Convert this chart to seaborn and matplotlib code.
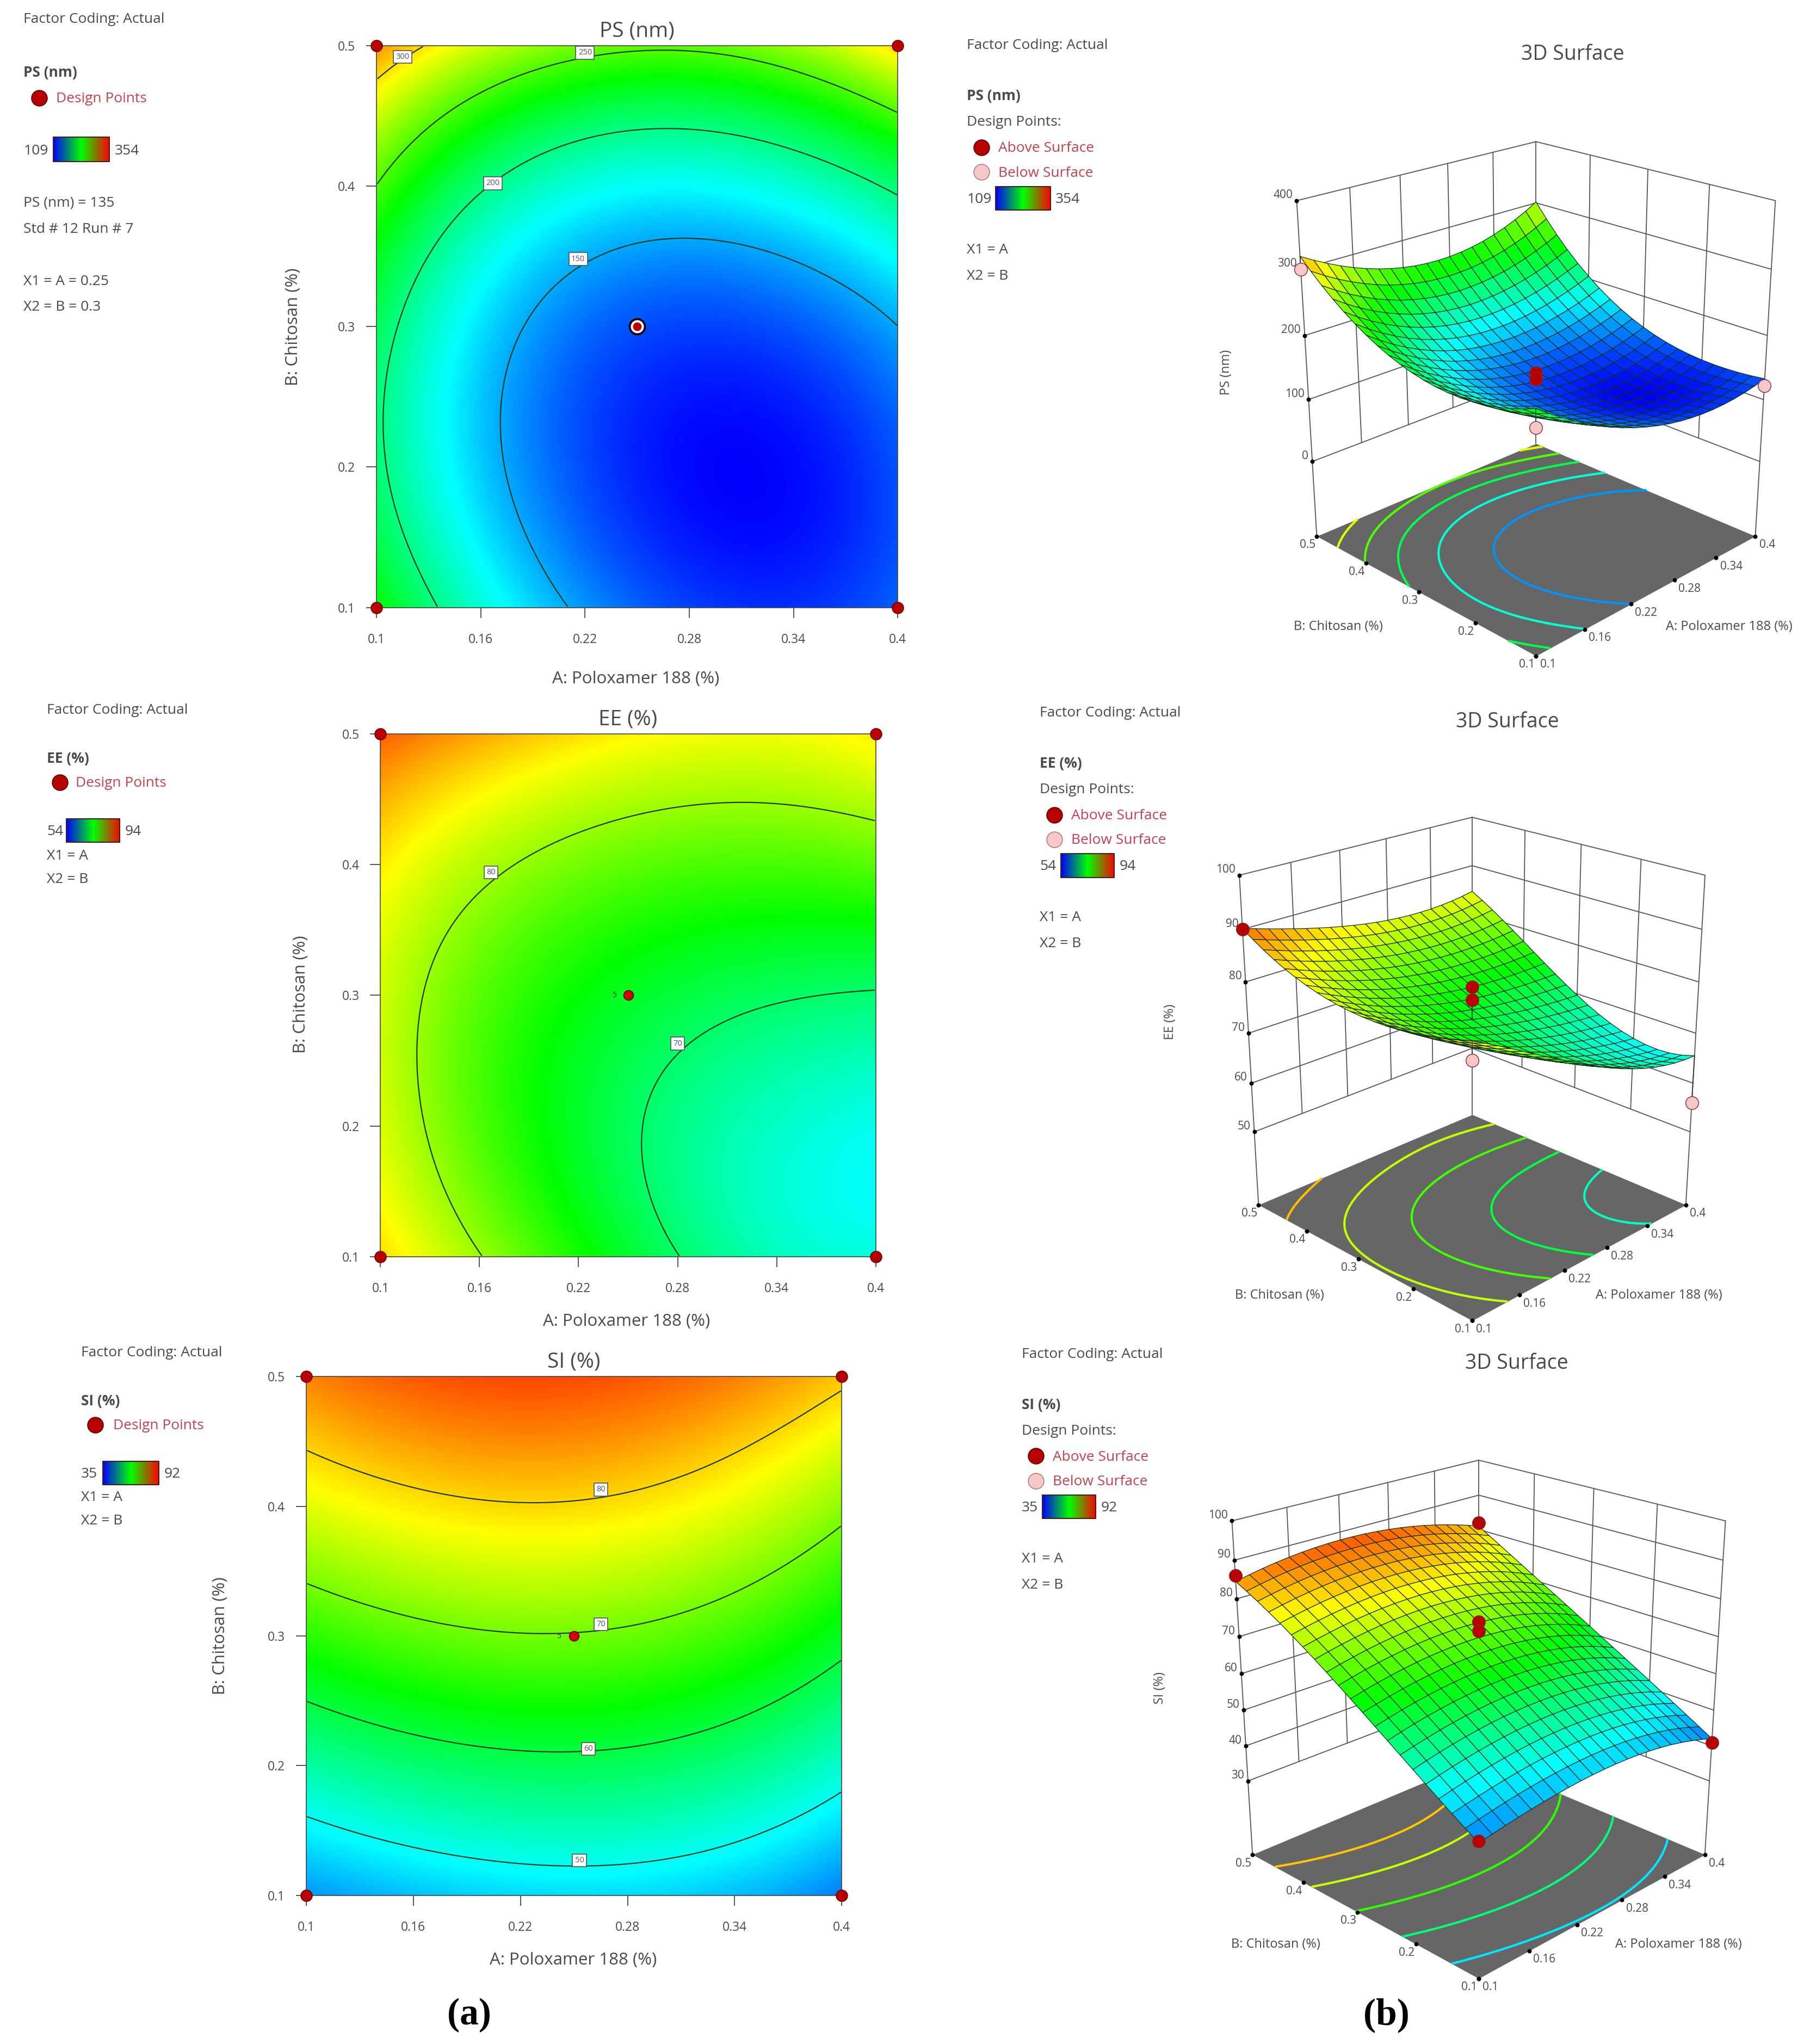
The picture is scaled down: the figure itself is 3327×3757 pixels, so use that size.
import numpy as np
import matplotlib
matplotlib.use('Agg')
import matplotlib.pyplot as plt
from matplotlib.colors import LinearSegmentedColormap, Normalize
from mpl_toolkits.mplot3d import proj3d
import seaborn as sns

sns.set_theme(style='white')
plt.rcParams['font.family'] = ['Open Sans', 'DejaVu Sans']

# factor levels and tick labels
A_LEVELS = [0.1, 0.16, 0.22, 0.28, 0.34, 0.4]
B_LEVELS = [0.1, 0.2, 0.3, 0.4, 0.5]
A_LABELS = ['0.1', '0.16', '0.22', '0.28', '0.34', '0.4']
B_LABELS = ['0.1', '0.2', '0.3', '0.4', '0.5']

# responses, one row per B level, one column per A level
PS_VALUES = [[231, 180, 146, 125, 121, 133],
             [205, 158, 126, 111, 111, 128],
             [210, 164, 137, 126, 131, 151],
             [250, 200, 178, 171, 179, 204],
             [320, 277, 260, 256, 264, 303]]
EE_VALUES = [[85, 80.5, 74.5, 69.5, 67.2, 65.3],
             [83, 77.2, 72.6, 69.5, 66.6, 65],
             [81.5, 77.4, 73, 71.5, 69.5, 69.5],
             [85, 81.4, 78.5, 77.7, 77.2, 77.5],
             [90, 87.5, 85, 83.5, 83.5, 84.5]]
SI_VALUES = [[43.5, 45.8, 47.5, 47, 46, 42],
             [54.4, 57.2, 58.8, 58.3, 56.4, 51.9],
             [65.7, 68.5, 70, 69, 66.9, 62],
             [76, 78.5, 79.8, 78.9, 76.3, 71.3],
             [84.5, 87, 88, 87, 85, 81]]

PS_RANGE = [109, 354]
EE_RANGE = [54, 94]
SI_RANGE = [35, 92]

PS_LEVELS = [150, 200, 250, 300]
EE_LEVELS = [70, 80]
SI_LEVELS = [50, 60, 70, 80]
PS_FLOOR_LEVELS = [145, 180, 215, 250, 285]
EE_FLOOR_LEVELS = [66.5, 71.5, 76.5, 81.5, 86.5]
SI_FLOOR_LEVELS = [48, 57, 66, 74.5, 81]

PS_Z_TICKS = [0, 100, 200, 300, 400]
EE_Z_TICKS = [50, 60, 70, 80, 90, 100]
SI_Z_TICKS = [30, 40, 50, 60, 70, 80, 90, 100]

# design points
POINT_A = [0.1, 0.1, 0.4, 0.4, 0.25]
POINT_B = [0.1, 0.5, 0.1, 0.5, 0.3]

# 3D design points: a, b, response
PS_ABOVE = [[0.25, 0.3, 142], [0.25, 0.3, 132]]
PS_BELOW = [[0.1, 0.5, 300], [0.1, 0.1, 205], [0.4, 0.1, 122]]
EE_ABOVE = [[0.1, 0.5, 90], [0.25, 0.3, 79], [0.25, 0.3, 76.5]]
EE_BELOW = [[0.1, 0.1, 82], [0.4, 0.1, 56]]
SI_ABOVE = [[0.1, 0.5, 86], [0.4, 0.5, 82], [0.25, 0.3, 74], [0.25, 0.3, 71.5],
            [0.4, 0.1, 41], [0.1, 0.1, 44]]
SI_BELOW = []

RED = '#b80000'
PINK = '#f7c6c6'
TXT = '#4a4a4a'
RED_TXT = '#c9404f'

field_cmap = LinearSegmentedColormap.from_list('de', ['#0000ff', '#00ffff', '#00ff00', '#ffff00', '#ff0000'])
bar_cmap = LinearSegmentedColormap.from_list('bar', ['#0000ff', '#00ff00', '#ff0000'])


def fit_field(values):
    aa, bb = np.meshgrid(A_LEVELS, B_LEVELS)
    v = np.polynomial.polynomial.polyvander2d(aa.ravel(), bb.ravel(), [3, 3])
    coef = np.linalg.lstsq(v, np.array(values, dtype=float).ravel(), rcond=None)[0]

    def f(a, b):
        a = np.asarray(a, dtype=float)
        return np.polynomial.polynomial.polyvander2d(a, np.asarray(b, dtype=float), [3, 3]) @ coef
    return f


fig = plt.figure(figsize=(33.27, 37.57), dpi=100)

# overlay in the coordinates of the page, for the side text
over = fig.add_axes([0, 0, 1, 1], zorder=5)
over.set_axis_off()


def txt(x, y, s, size=19, color=TXT, weight='normal', ha='left', rotation=0, **kw):
    over.text(x, y + 0.8, s, fontsize=size, color=color, fontweight=weight, ha=ha, va='center',
              rotation=rotation, **kw)


def bar(x0, x1, y0, y1):
    over.imshow(np.linspace(0, 1, 256)[None, :], cmap=bar_cmap, extent=[x0, x1, y1, y0],
                aspect='auto', zorder=3)
    over.plot([x0, x1, x1, x0, x0], [y0, y0, y1, y1, y0], color='#402020', lw=1.5, zorder=4)


def dot(x, y, color=RED, edge='#5a0000', s=430):
    sns.scatterplot(x=[x], y=[y], ax=over, s=s, color=color, edgecolor=edge, linewidth=1.2,
                    legend=False, zorder=4, clip_on=False)


def contour_panel(rect, values, vrange, levels, title, label_pos, center_style, xlab_at, ylab_at):
    l, r, t, b = rect
    ax = fig.add_axes([l / 1389, 1 - b / 1568, (r - l) / 1389, (b - t) / 1568])
    f = fit_field(values)
    n = 320
    aa, bb = np.meshgrid(np.linspace(0.1, 0.4, n), np.linspace(0.1, 0.5, n))
    field = f(aa, bb)
    sns.heatmap(field, ax=ax, cmap=field_cmap, vmin=vrange[0], vmax=vrange[1], cbar=False,
                xticklabels=False, yticklabels=False, rasterized=True)
    ax.invert_yaxis()
    ax.set_ylim(0, n)
    to_x = lambda a: (np.asarray(a) - 0.1) / 0.3 * n
    to_y = lambda v: (np.asarray(v) - 0.1) / 0.4 * n
    ax.contour(np.arange(n) + 0.5, np.arange(n) + 0.5, field, levels=levels,
               colors='#1d3a1d', linewidths=1.6)
    for (lv, pa, pb) in label_pos:
        ax.text(to_x(pa), to_y(pb), str(lv), fontsize=10.5, color='#555566', ha='center', va='center',
                zorder=6, bbox=dict(boxstyle='square,pad=0.3', fc='white', ec='#555555', lw=1.2))
    sns.scatterplot(x=to_x(POINT_A[:4]), y=to_y(POINT_B[:4]), ax=ax, s=230, color=RED,
                    edgecolor='#5a0000', linewidth=1, legend=False, zorder=7, clip_on=False)
    cx, cy = to_x(POINT_A[4]), to_y(POINT_B[4])
    if center_style == 'ring':
        sns.scatterplot(x=[cx], y=[cy], ax=ax, s=520, color='#200000', linewidth=0, legend=False, zorder=7)
        sns.scatterplot(x=[cx], y=[cy], ax=ax, s=300, color='white', linewidth=0, legend=False, zorder=8)
        sns.scatterplot(x=[cx], y=[cy], ax=ax, s=130, color=RED, linewidth=0, legend=False, zorder=9)
    else:
        sns.scatterplot(x=[cx], y=[cy], ax=ax, s=170, color='#d00000', edgecolor='#5a0000', linewidth=1,
                        legend=False, zorder=7)
        ax.text(cx - n * 0.024, cy, '5', fontsize=10, color='#333333', ha='right', va='center', zorder=7)
    ax.set_xticks(to_x(A_LEVELS))
    ax.set_xticklabels(A_LABELS, rotation=0)
    ax.set_yticks(to_y(B_LEVELS))
    ax.set_yticklabels(B_LABELS, rotation=0)
    ax.tick_params(axis='both', direction='out', length=14, width=1.4, color='#555555',
                   labelsize=16.5, labelcolor=TXT, pad=14, bottom=True, left=True)
    ax.tick_params(axis='x', pad=20)
    for sp in ax.spines.values():
        sp.set_visible(True)
        sp.set_color('#444444')
        sp.set_linewidth(1.2)
    ax.set_xlabel('')
    ax.set_ylabel('')
    ax.set_title(title, fontsize=28, color=TXT, pad=12)
    txt(xlab_at[0], xlab_at[1], 'A: Poloxamer 188 (%)', size=22.5, ha='center')
    txt(ylab_at[0], ylab_at[1], 'B: Chitosan (%)', size=22.5, ha='center', rotation=90)


def surface_panel(rect, values, vrange, floor_levels, z_ticks, zlim, above, below, zoom, elev, box_z):
    l, r, t, b = rect
    ax = fig.add_axes([l / 1389, 1 - b / 1568, (r - l) / 1389, (b - t) / 1568], projection='3d',
                      computed_zorder=False)
    ax.patch.set_alpha(0)
    ax.set_proj_type('persp', focal_length=0.45)
    ax.view_init(elev=elev, azim=-135)
    ax.set_box_aspect((1, 1, box_z), zoom=zoom)
    ax.set_xticks([])
    ax.set_yticks([])
    ax.set_zticks([])
    ax.set_axis_off()
    floor = zlim[0]
    zt0, zt1 = z_ticks[0], z_ticks[-1]
    f = fit_field(values)
    norm = Normalize(vrange[0], vrange[1])

    # gray floor with the contours on it
    fine_a, fine_b = np.meshgrid(np.linspace(0.1, 0.4, 160), np.linspace(0.1, 0.5, 160))
    fine_z = f(fine_a, fine_b)
    ax.plot_surface(np.array([[0.1, 0.4], [0.1, 0.4]]), np.array([[0.1, 0.1], [0.5, 0.5]]),
                    np.full((2, 2), floor), color='#666666', shade=False, zorder=1, linewidth=0)
    ax.contour(fine_a, fine_b, fine_z, levels=floor_levels, zdir='z', offset=floor, cmap=field_cmap,
               norm=norm, linewidths=3, zorder=2)

    # walls
    wall = dict(color='#555555', lw=1.3, zorder=1)
    for z in z_ticks:
        ax.plot([0.1, 0.4], [0.5, 0.5], [z, z], **wall)
        ax.plot([0.4, 0.4], [0.5, 0.1], [z, z], **wall)
    for a in A_LEVELS[1:-1]:
        ax.plot([a, a], [0.5, 0.5], [zt0, zt1], **wall)
    for v in B_LEVELS[1:-1]:
        ax.plot([0.4, 0.4], [v, v], [zt0, zt1], **wall)
    for (pa, pb) in [(0.1, 0.5), (0.4, 0.5), (0.4, 0.1)]:
        ax.plot([pa, pa], [pb, pb], [floor, zt1], **wall)

    # surface mesh
    ma, mb = np.meshgrid(np.linspace(0.1, 0.4, 21), np.linspace(0.1, 0.5, 21))
    mz = f(ma, mb)
    ax.plot_surface(ma, mb, mz, facecolors=field_cmap(norm(mz)), rstride=1, cstride=1, shade=False,
                    edgecolor='#14301c', linewidth=0.9, zorder=3, antialiased=True)

    # design points with the line down or up to the surface
    for pts, col in [(above, RED), (below, PINK)]:
        for pa, pb, pz in pts:
            ax.plot([pa, pa], [pb, pb], [pz, float(f(np.array([pa]), np.array([pb]))[0])],
                    color='#333333', lw=1.2, zorder=4)
            ax.scatter([pa], [pb], [pz], s=290, color=col, edgecolor='#7a3030', linewidth=1, zorder=5,
                       depthshade=False)

    # ticks on the axes
    ax.scatter(A_LEVELS, [0.1] * 6, [floor] * 6, s=22, color='black', zorder=3, depthshade=False)
    ax.scatter([0.1] * 5, B_LEVELS, [floor] * 5, s=22, color='black', zorder=3, depthshade=False)
    ax.scatter([0.1] * len(z_ticks), [0.5] * len(z_ticks), z_ticks, s=22, color='black', zorder=3, depthshade=False)

    ax.set_xlim(0.1, 0.4)
    ax.set_ylim(0.1, 0.5)
    ax.set_zlim(zlim[0], zlim[1])

    # tick labels placed from the projected position of each tick
    ax.apply_aspect()
    proj = ax.get_proj()

    def page_pos(x, y, z):
        x2, y2, _ = proj3d.proj_transform(x, y, z, proj)
        dx, dy = ax.transData.transform((x2, y2))
        return dx / 3327 * 1389, (1 - dy / 3757) * 1568

    for a, s in zip(A_LEVELS, A_LABELS):
        px, py = page_pos(a, 0.1, floor)
        txt(px + 3, py + 6, s, size=15)
    for v, s in zip(B_LEVELS, B_LABELS):
        px, py = page_pos(0.1, v, floor)
        txt(px - 1, py + 6, s, size=15, ha='right')
    for z in z_ticks:
        px, py = page_pos(0.1, 0.5, z)
        txt(px - 3, py - 5, str(z), size=15, ha='right')


# --- left column
contour_panel((289, 689, 35, 466), PS_VALUES, PS_RANGE, PS_LEVELS, 'PS (nm)',
              [(300, 0.115, 0.492), (250, 0.22, 0.495), (200, 0.167, 0.402), (150, 0.216, 0.348)], 'ring',
              (488, 520), (225, 250))
contour_panel((292, 672, 563, 964), EE_VALUES, EE_RANGE, EE_LEVELS, 'EE (%)',
              [(80, 0.167, 0.394), (70, 0.28, 0.263)], 'small', (481, 1013), (231, 762))
contour_panel((235, 646, 1056, 1454), SI_VALUES, SI_RANGE, SI_LEVELS, 'SI (%)',
              [(80, 0.265, 0.413), (70, 0.265, 0.309), (60, 0.258, 0.213), (50, 0.253, 0.127)], 'small',
              (440, 1503), (169, 1254))

# --- right column
surface_panel((922, 1422, 45, 545), PS_VALUES, PS_RANGE, PS_FLOOR_LEVELS, PS_Z_TICKS, (-125, 400),
              PS_ABOVE, PS_BELOW, 0.87, 22.5, 1.12)
surface_panel((873, 1373, 560, 1060), EE_VALUES, EE_RANGE, EE_FLOOR_LEVELS, EE_Z_TICKS, (34.5, 100),
              EE_ABOVE, EE_BELOW, 0.85, 22.5, 1.13)
surface_panel((878, 1378, 1057, 1557), SI_VALUES, SI_RANGE, SI_FLOOR_LEVELS, SI_Z_TICKS, (8.4, 100),
              SI_ABOVE, SI_BELOW, 0.885, 22.5, 1.08)

# --- side text, 2D panels
txt(18, 14, 'Factor Coding: Actual')
txt(18, 55, 'PS (nm)', weight='bold')
dot(30, 75)
txt(43, 75, 'Design Points', color=RED_TXT)
txt(18, 115, '109')
bar(41, 84, 105, 124)
txt(88, 115, '354')
txt(18, 155, 'PS (nm) = 135')
txt(18, 175, 'Std # 12 Run # 7')
txt(18, 215, 'X1 = A = 0.25')
txt(18, 235, 'X2 = B = 0.3')

txt(36, 544, 'Factor Coding: Actual')
txt(36, 581, 'EE (%)', weight='bold')
dot(46, 600)
txt(58, 600, 'Design Points', color=RED_TXT)
txt(36, 637, '54')
bar(51, 92, 628, 646)
txt(96, 637, '94')
txt(36, 656, 'X1 = A')
txt(36, 674, 'X2 = B')

txt(62, 1037, 'Factor Coding: Actual')
txt(62, 1074, 'SI (%)', weight='bold')
dot(73, 1093)
txt(87, 1093, 'Design Points', color=RED_TXT)
txt(62, 1130, '35')
bar(79, 122, 1121, 1139)
txt(126, 1130, '92')
txt(62, 1148, 'X1 = A')
txt(62, 1166, 'X2 = B')

# --- side text, 3D panels
for x0, y0, name, lo, hi, cx, cy, zx, zy, head, (a_x, a_y), (b_x, b_y) in [
    (742, 34, 'PS (nm)', '109', '354', 1207, 41, 941, 285, 'PS (nm)', (1327, 480), (1027, 480)),
    (798, 546, 'EE (%)', '54', '94', 1157, 553, 898, 783, 'EE (%)', (1273, 993), (982, 993)),
    (784, 1038, 'SI (%)', '35', '92', 1164, 1045, 890, 1294, 'SI (%)', (1288, 1491), (979, 1491)),
]:
    txt(x0, y0, 'Factor Coding: Actual')
    txt(x0, y0 + 39, name, weight='bold')
    txt(x0, y0 + 59, 'Design Points:')
    dot(x0 + 11, y0 + 79)
    txt(x0 + 24, y0 + 79, 'Above Surface', color=RED_TXT)
    dot(x0 + 11, y0 + 98, color=PINK, edge='#b08080')
    txt(x0 + 24, y0 + 98, 'Below Surface', color=RED_TXT)
    txt(x0, y0 + 118, lo)
    bar(x0 + (16 if len(lo) == 2 else 22), x0 + (57 if len(lo) == 2 else 64), y0 + 109, y0 + 127)
    txt(x0 + (61 if len(lo) == 2 else 68), y0 + 118, hi)
    txt(x0, y0 + 157, 'X1 = A')
    txt(x0, y0 + 177, 'X2 = B')
    txt(cx, cy, '3D Surface', size=27, ha='center')
    txt(zx, zy, head, size=17, ha='center', rotation=90)
    txt(a_x, a_y, 'A: Poloxamer 188 (%)', size=17, ha='center')
    txt(b_x, b_y, 'B: Chitosan (%)', size=17, ha='center')

# --- panel letters
txt(360, 1545, '(a)', size=50, color='black', weight='bold', ha='center', family='Liberation Serif')
txt(1064, 1545, '(b)', size=50, color='black', weight='bold', ha='center', family='Liberation Serif')

over.set_xlim(0, 1389)
over.set_ylim(1568, 0)
over.set_xticks([])
over.set_yticks([])

fig.savefig('out.png', dpi=100, facecolor='white')
